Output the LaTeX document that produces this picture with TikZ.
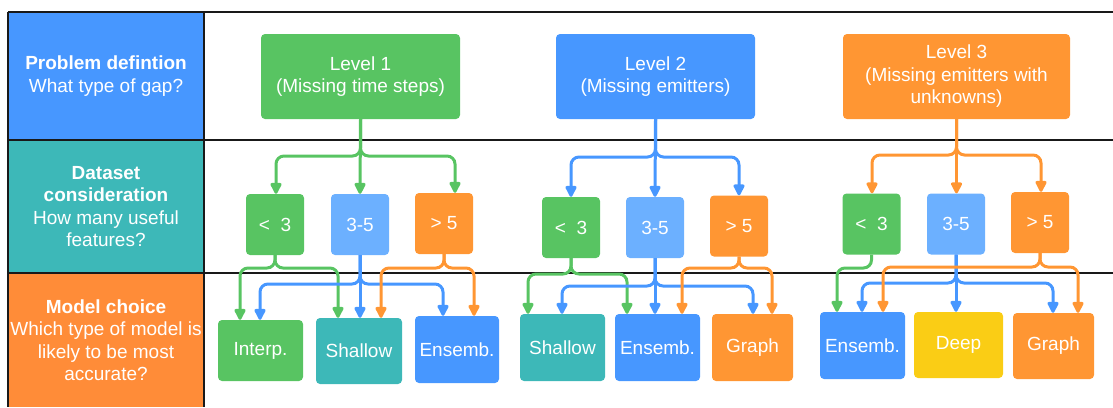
\documentclass[tikz,border=0pt]{standalone}
\usepackage{fontspec}
\setmainfont{Liberation Sans}
\usetikzlibrary{arrows.meta}

\definecolor{grn}{RGB}{88,196,98}
\definecolor{blu}{RGB}{71,151,255}
\definecolor{lblu}{RGB}{108,176,255}
\definecolor{org}{RGB}{255,150,51}
\definecolor{corg}{RGB}{255,140,56}
\definecolor{teal}{RGB}{61,184,184}
\definecolor{yel}{RGB}{250,205,21}
\definecolor{rule}{RGB}{25,25,25}

\begin{document}
\begin{tikzpicture}[x=1pt,y=-1pt,
  every node/.style={font=\fontsize{19}{22.5}\selectfont, text=white, align=center, inner sep=0pt},
  cell/.style={rectangle, minimum width=196pt, minimum height=#1},
  box/.style={rectangle, rounded corners=4pt, fill=#1},
  lvl/.style={box=#1, minimum height=85pt},
  opt/.style={box=#1, minimum width=58pt, minimum height=61pt},
  mdl/.style={box=#1, minimum height=66pt},
  gridline/.style={draw=rule, line width=1.8pt},
  con/.style={draw=#1, line width=3pt, rounded corners=8pt, -{Triangle[width=12pt,length=13pt,round=false]}},
]
\useasboundingbox (0,0) rectangle (1113,407);

% left column: the three questions
\node[cell=128pt, fill=blu]  (q1) at (106,76)  {\textbf{Problem defintion}\\What type of gap?};
\node[cell=133pt, fill=teal] (q2) at (106,206.5) {\textbf{Dataset}\\\textbf{consideration}\\How many useful\\features?};
\node[cell=134pt, fill=corg] (q3) at (106,340) {\textbf{Model choice}\\Which type of model is\\likely to be most\\accurate?};

% table rules
\draw[gridline] (8,12) -- (1113,12);
\draw[gridline] (8,140) -- (1113,140);
\draw[gridline] (8,273) -- (1113,273);
\draw[gridline] (8,12) -- (8,407);
\draw[gridline] (204,12) -- (204,407);

% problem levels
\node[lvl=grn, minimum width=199pt] (L1) at (360.5,76.5) {Level 1\\(Missing time steps)};
\node[lvl=blu, minimum width=199pt] (L2) at (655.5,76.5) {Level 2\\(Missing emitters)};
\node[lvl=org, minimum width=227pt] (L3) at (956.5,76.5) {Level 3\\(Missing emitters with\\unknowns)};

% feature counts
\node[opt=grn]  (a1) at (275,224.5) {<\ \ 3};
\node[opt=lblu] (b1) at (360,224.5) {3-5};
\node[opt=org]  (c1) at (444,223.5) {> 5};
\node[opt=grn]  (a2) at (571,227.5) {<\ \ 3};
\node[opt=lblu] (b2) at (655,227.5) {3-5};
\node[opt=org]  (c2) at (739,226)   {> 5};
\node[opt=grn]  (a3) at (871.5,224) {<\ \ 3};
\node[opt=lblu] (b3) at (956,224)   {3-5};
\node[opt=org]  (c3) at (1040,222.5) {> 5};

% model types
\node[mdl=grn,  minimum width=85pt, minimum height=61pt] (m1) at (260.5,350.5) {Interp.};
\node[mdl=teal, minimum width=86pt] (m2) at (359,351)     {Shallow};
\node[mdl=blu,  minimum width=84pt, minimum height=67pt] (m3) at (457,349.5) {Ensemb.};
\node[mdl=teal, minimum width=85pt, minimum height=67pt] (m4) at (562.5,347.5) {Shallow};
\node[mdl=blu,  minimum width=85pt, minimum height=67pt] (m5) at (657.5,347.5) {Ensemb.};
\node[mdl=org,  minimum width=81pt, minimum height=67pt] (m6) at (752.5,347.5) {Graph};
\node[mdl=blu,  minimum width=85pt, minimum height=67pt] (m7) at (862.5,345.5) {Ensemb.};
\node[mdl=yel,  minimum width=89pt] (m8) at (958.5,345)   {Deep};
\node[mdl=org,  minimum width=81pt] (m9) at (1053.5,346)  {Graph};

% level -> feature counts
\draw[con=grn] (L1.south) |- (276,156) -- (a1.north -| 276,0);
\draw[con=grn] (L1.south) |- (455,156) -- (c1.north -| 455,0);
\draw[con=grn] (L1.south) -- (b1.north);
\draw[con=blu] (L2.south) |- (571,157) -- (a2.north);
\draw[con=blu] (L2.south) |- (739,157) -- (c2.north);
\draw[con=blu] (L2.south) -- (b2.north);
\draw[con=org] (L3.south) |- (872,155) -- (a3.north -| 872,0);
\draw[con=org] (L3.south) |- (1041,155) -- (c3.north -| 1041,0);
\draw[con=org] (L3.south) -- (b3.north -| L3.south);

% feature counts -> model types: few features
\draw[con=grn] (a1.south) |- (240,268) -- (m1.north -| 240,0);
\draw[con=grn] (a1.south) |- (338,268) -- (m2.north -| 338,0);
\draw[con=grn] (a2.south) |- (528,274) -- (m4.north -| 528,0);
\draw[con=grn] (a2.south) |- (627,274) -- (m5.north -| 627,0);
\draw[con=grn] (a3.south) |- (837,268) -- (m7.north -| 837,0);

% some features
\draw[con=blu] (b1.south) |- (260,284) -- (m1.north -| 260,0);
\draw[con=blu] (b1.south) |- (443,284) -- (m3.north -| 443,0);
\draw[con=blu] (b1.south) -- (m2.north -| b1.south);
\draw[con=blu] (b2.south) |- (562,286) -- (m4.north -| 562,0);
\draw[con=blu] (b2.south) |- (753,286) -- (m6.north -| 753,0);
\draw[con=blu] (b2.south) -- (m5.north -| b2.south);
\draw[con=blu] (b3.south) |- (862,283) -- (m7.north -| 862,0);
\draw[con=blu] (b3.south) |- (1053,283) -- (m9.north -| 1053,0);
\draw[con=blu] (b3.south) -- (m8.north -| b3.south);

% many features
\draw[con=org] (c1.south) |- (381,268) -- (m2.north -| 381,0);
\draw[con=org] (c1.south) |- (474,268) -- (m3.north -| 474,0);
\draw[con=org] (c2.south) |- (682,268) -- (m5.north -| 682,0);
\draw[con=org] (c2.south) |- (772,268) -- (m6.north -| 772,0);
\draw[con=org] (c3.south) |- (883,267) -- (m7.north -| 883,0);
\draw[con=org] (c3.south) |- (1078,267) -- (m9.north -| 1078,0);
\end{tikzpicture}
\end{document}
